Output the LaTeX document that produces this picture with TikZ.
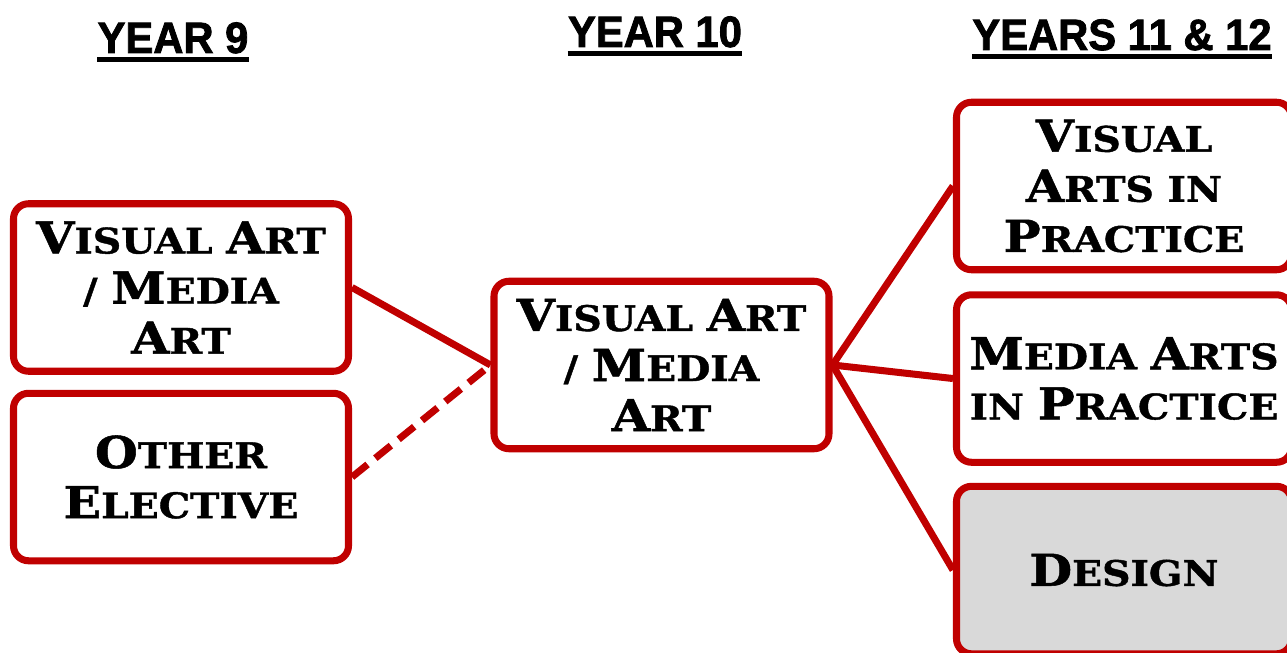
\documentclass[tikz,border=0pt]{standalone}
\usepackage{fontspec}
\setmainfont{Liberation Sans}
\newfontfamily\cpfont{DejaVu Serif Bold}[FakeStretch=1.12, FakeBold=1.2]
\newfontfamily\headfont{Liberation Sans Bold}[FakeStretch=0.95, FakeBold=1.8]
\usepackage{tikz}
\usetikzlibrary{positioning}
\definecolor{boxred}{HTML}{C00000}
\definecolor{boxgrey}{HTML}{D9D9D9}
\newcommand{\bigletter}[1]{{\fontsize{25}{28.5}\selectfont #1}}

\begin{document}
\begin{tikzpicture}[
  box/.style={draw=boxred, line width=4pt, rounded corners=0.3cm, align=center, minimum width=6.7cm, minimum height=3.35cm, inner sep=0pt, font=\cpfont\fontsize{20}{28.5}\selectfont},
  link/.style={draw=boxred, line width=4pt},
  head/.style={inner sep=0pt, anchor=base, font=\headfont\fontsize{25}{28}\selectfont},
  bar/.style={line width=2.8pt}
]
\useasboundingbox (0,0) rectangle (25.74,13.04);

\node[head] (h9) at (3.46,11.98) {YEAR 9};
\node[head] (h10) at (13.1,12.1) {YEAR 10};
\node[head] (h12) at (22.44,12.04) {YEARS 11 \& 12};
\draw[bar] ([yshift=-3.8pt]h9.base west) -- ([yshift=-3.8pt]h9.base east);
\draw[bar] ([yshift=-3.8pt]h10.base west) -- ([yshift=-3.8pt]h10.base east);
\draw[bar] ([yshift=-3.8pt]h12.base west) -- ([yshift=-3.8pt]h12.base east);

\node[box] (art9) at (3.62,7.29) {\bigletter{V}ISUAL \bigletter{A}RT\\/ \bigletter{M}EDIA\\\bigletter{A}RT};
\node[box, below=0.3cm of art9] (other) {\bigletter{O}THER\\\bigletter{E}LECTIVE};
\node[box] (art10) at (13.23,5.74) {\bigletter{V}ISUAL \bigletter{A}RT\\/ \bigletter{M}EDIA\\\bigletter{A}RT};
\node[box] (vap) at (22.48,9.32) {\bigletter{V}ISUAL\\\bigletter{A}RTS IN\\\bigletter{P}RACTICE};
\node[box, below=0.36cm of vap] (map) {\bigletter{M}EDIA \bigletter{A}RTS\\IN \bigletter{P}RACTICE};
\node[box, fill=boxgrey, below=0.34cm of map] (design) {\bigletter{D}ESIGN};

\draw[link] (art9.east) -- (art10.west);
\draw[link, dash pattern=on 0.4cm off 0.2cm] (other.east) -- (art10.west);
\draw[link] (art10.east) -- (vap.west);
\draw[link] (art10.east) -- (map.west);
\draw[link] (art10.east) -- (design.west);
\end{tikzpicture}
\end{document}
